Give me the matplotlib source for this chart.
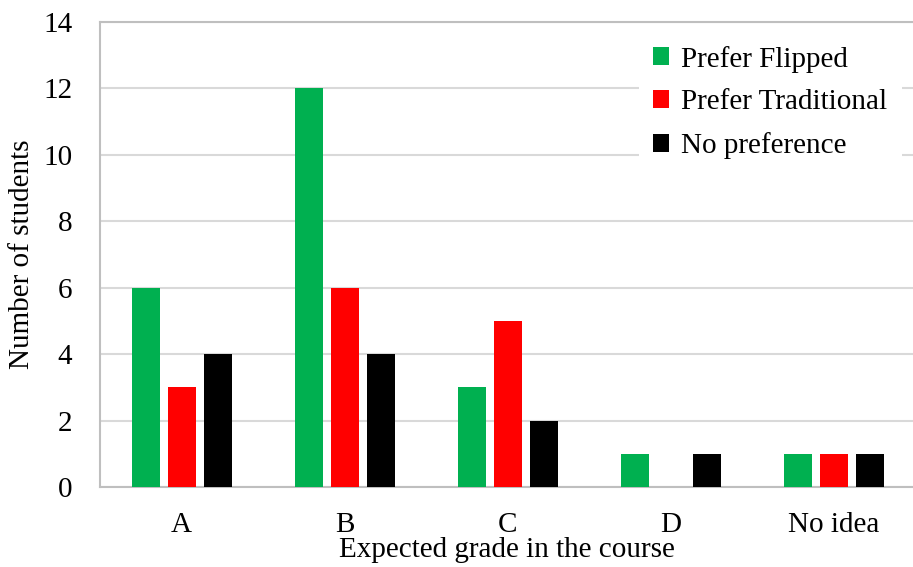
import matplotlib.pyplot as plt
import numpy as np
from matplotlib.patches import Patch

categories = ["A", "B", "C", "D", "No idea"]
prefer_flipped = [6, 12, 3, 1, 1]
prefer_traditional = [3, 6, 5, 0, 1]
no_preference = [4, 4, 2, 1, 1]
series_names = ["Prefer Flipped", "Prefer Traditional", "No preference"]
colors = ["#00b050", "#ff0000", "#000000"]

plt.rcParams['font.family'] = ['Liberation Serif', 'DejaVu Serif']
FS = 21

fig = plt.figure(figsize=(9.13, 5.67), dpi=100)
ax = fig.add_axes([100/913, 80/567, 813/913, 465/567])

x = np.arange(len(categories))
w = 28/163
step = 36/163
for i, (vals, c) in enumerate(zip([prefer_flipped, prefer_traditional, no_preference], colors)):
    ax.bar(x + (i - 1) * step, vals, width=w, color=c, zorder=3, label=series_names[i])

ax.set_xlim(-0.5, 4.5 - 2/163)
ax.set_ylim(0, 14)
ax.set_yticks(range(0, 15, 2))
ax.set_xticks(x)
ax.set_xticklabels(categories)
ax.tick_params(axis='both', length=0, labelsize=FS)
ax.tick_params(axis='y', pad=20)
ax.tick_params(axis='x', pad=18)
ax.yaxis.grid(True, color='#d9d9d9', linewidth=1.5, zorder=0)
ax.spines['right'].set_visible(False)
for s in ['top', 'left', 'bottom']:
    ax.spines[s].set_color('#bfbfbf')
    ax.spines[s].set_linewidth(1.5)

ax.set_xlabel("Expected grade in the course", fontsize=FS)
ax.set_ylabel("Number of students", fontsize=FS)
ax.xaxis.set_label_coords((507 - 100) / 813, (487 - 550) / 465)
ax.yaxis.set_label_coords((22 - 100) / 813, 0.5)
ax.xaxis.label.set_va('center')
ax.yaxis.label.set_va('center')

handles = [Patch(facecolor=c, edgecolor='none') for c in colors]
leg = ax.legend(handles, series_names, loc='upper right', bbox_to_anchor=(1.004, 1.012),
                fontsize=FS, frameon=True, facecolor='white', edgecolor='none', framealpha=1,
                handlelength=0.55, handleheight=0.55, handletextpad=0.4, labelspacing=0.58,
                borderpad=0.5, fancybox=False)
leg.set_zorder(5)

fig.savefig("out.png", dpi=100)
